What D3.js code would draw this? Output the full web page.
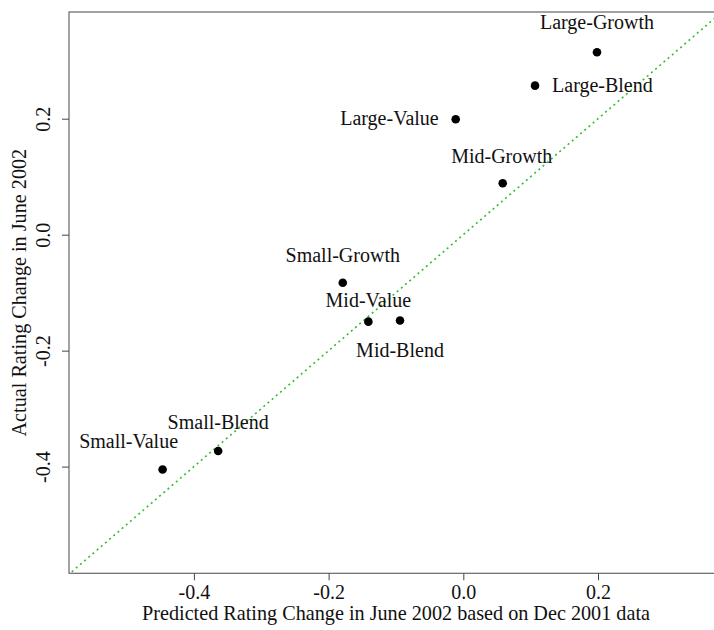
<!DOCTYPE html>
<html>
<head>
<meta charset="utf-8">
<script src="https://cdn.jsdelivr.net/npm/d3@7"></script>
<style>
  html, body { margin: 0; padding: 0; background: #fff; }
  svg { display: block; }
  text { font-family: "Liberation Serif", "Times New Roman", serif; fill: #111; }
</style>
</head>
<body>
<svg id="chart" width="714" height="630"></svg>
<script>
// Morningstar style boxes: predicted vs. actual rating change
const styleBoxes = ["Large-Growth", "Large-Blend", "Large-Value", "Mid-Growth", "Mid-Blend",
                    "Mid-Value", "Small-Growth", "Small-Blend", "Small-Value"];
const predictedChange = [0.1985, 0.1065, -0.0113, 0.0585, -0.094, -0.141, -0.179, -0.364, -0.4465];
const actualChange    = [0.3145, 0.257, 0.199, 0.0886, -0.148, -0.150, -0.0828, -0.373, -0.405];
const xTicks = [-0.4, -0.2, 0.0, 0.2];
const yTicks = [-0.4, -0.2, 0.0, 0.2];

// label placement around each point: [dx, dy, anchor]
const labelPlacement = [
  [0, -23.5, "middle"], [17, 6, "start"], [-17, 5.7, "end"], [-1, -20.6, "middle"],
  [0, 36.6, "middle"], [0, -15, "middle"], [0, -21, "middle"], [0, -21.7, "middle"],
  [-34, -21.4, "middle"]
];

const svg = d3.select("#chart");
const plot = { left: 69, right: 723, top: 12, bottom: 573.3 };

const x = d3.scaleLinear().domain([-0.5855, 0.3856]).range([plot.left, plot.right]);
const y = d3.scaleLinear().domain([-0.584, 0.384]).range([plot.bottom, plot.top]);
// plain hyphen for negative numbers
const fmt = v => d3.format(".1f")(v).replace("\u2212", "-");

svg.append("clipPath").attr("id", "plotclip")
  .append("rect").attr("x", plot.left).attr("y", plot.top)
  .attr("width", plot.right - plot.left).attr("height", plot.bottom - plot.top);

// reference line y = x
svg.append("line")
  .attr("clip-path", "url(#plotclip)")
  .attr("x1", x(-0.6)).attr("y1", y(-0.6))
  .attr("x2", x(0.4)).attr("y2", y(0.4))
  .attr("stroke", "#33bb33").attr("stroke-width", 1.6)
  .attr("stroke-dasharray", "2,3.5");

// frame
svg.append("rect")
  .attr("x", plot.left).attr("y", plot.top)
  .attr("width", plot.right - plot.left).attr("height", plot.bottom - plot.top)
  .attr("fill", "none").attr("stroke", "#666").attr("stroke-width", 1.2);

// bottom axis
const xAxis = d3.axisBottom(x).tickValues(xTicks).tickFormat(fmt).tickSize(7).tickPadding(6);
const gx = svg.append("g").attr("transform", `translate(0,${plot.bottom})`).call(xAxis);
gx.select(".domain").remove();
gx.selectAll(".tick line").attr("stroke", "#444");
gx.selectAll(".tick text")
  .attr("font-family", "Liberation Serif").attr("font-size", 20).attr("fill", "#111")
  .attr("dy", null).attr("y", 25.5);

// left axis with rotated labels
const yAxis = d3.axisLeft(y).tickValues(yTicks).tickFormat(fmt).tickSize(7);
const gy = svg.append("g").attr("transform", `translate(${plot.left},0)`).call(yAxis);
gy.select(".domain").remove();
gy.selectAll(".tick line").attr("stroke", "#444");
gy.selectAll(".tick text")
  .attr("font-family", "Liberation Serif").attr("font-size", 20).attr("fill", "#111")
  .attr("x", null).attr("dy", null)
  .attr("text-anchor", "middle")
  .attr("transform", "translate(-19,0) rotate(-90)");

// axis titles
svg.append("text")
  .attr("x", (plot.left + plot.right) / 2).attr("y", 620)
  .attr("text-anchor", "middle").attr("font-size", 20.2)
  .text("Predicted Rating Change in June 2002 based on Dec 2001 data");

svg.append("text")
  .attr("transform", `translate(26,${(plot.top + plot.bottom) / 2}) rotate(-90)`)
  .attr("text-anchor", "middle").attr("font-size", 20.2)
  .text("Actual Rating Change in June 2002");

// points
const pts = styleBoxes.map((name, i) => ({ name, px: predictedChange[i], ay: actualChange[i], place: labelPlacement[i] }));

svg.append("g").selectAll("circle").data(pts).join("circle")
  .attr("cx", d => x(d.px)).attr("cy", d => y(d.ay))
  .attr("r", 4.3).attr("fill", "#000");

svg.append("g").selectAll("text").data(pts).join("text")
  .attr("x", d => x(d.px) + d.place[0])
  .attr("y", d => y(d.ay) + d.place[1])
  .attr("text-anchor", d => d.place[2])
  .attr("font-size", 20)
  .text(d => d.name);
</script>
</body>
</html>
